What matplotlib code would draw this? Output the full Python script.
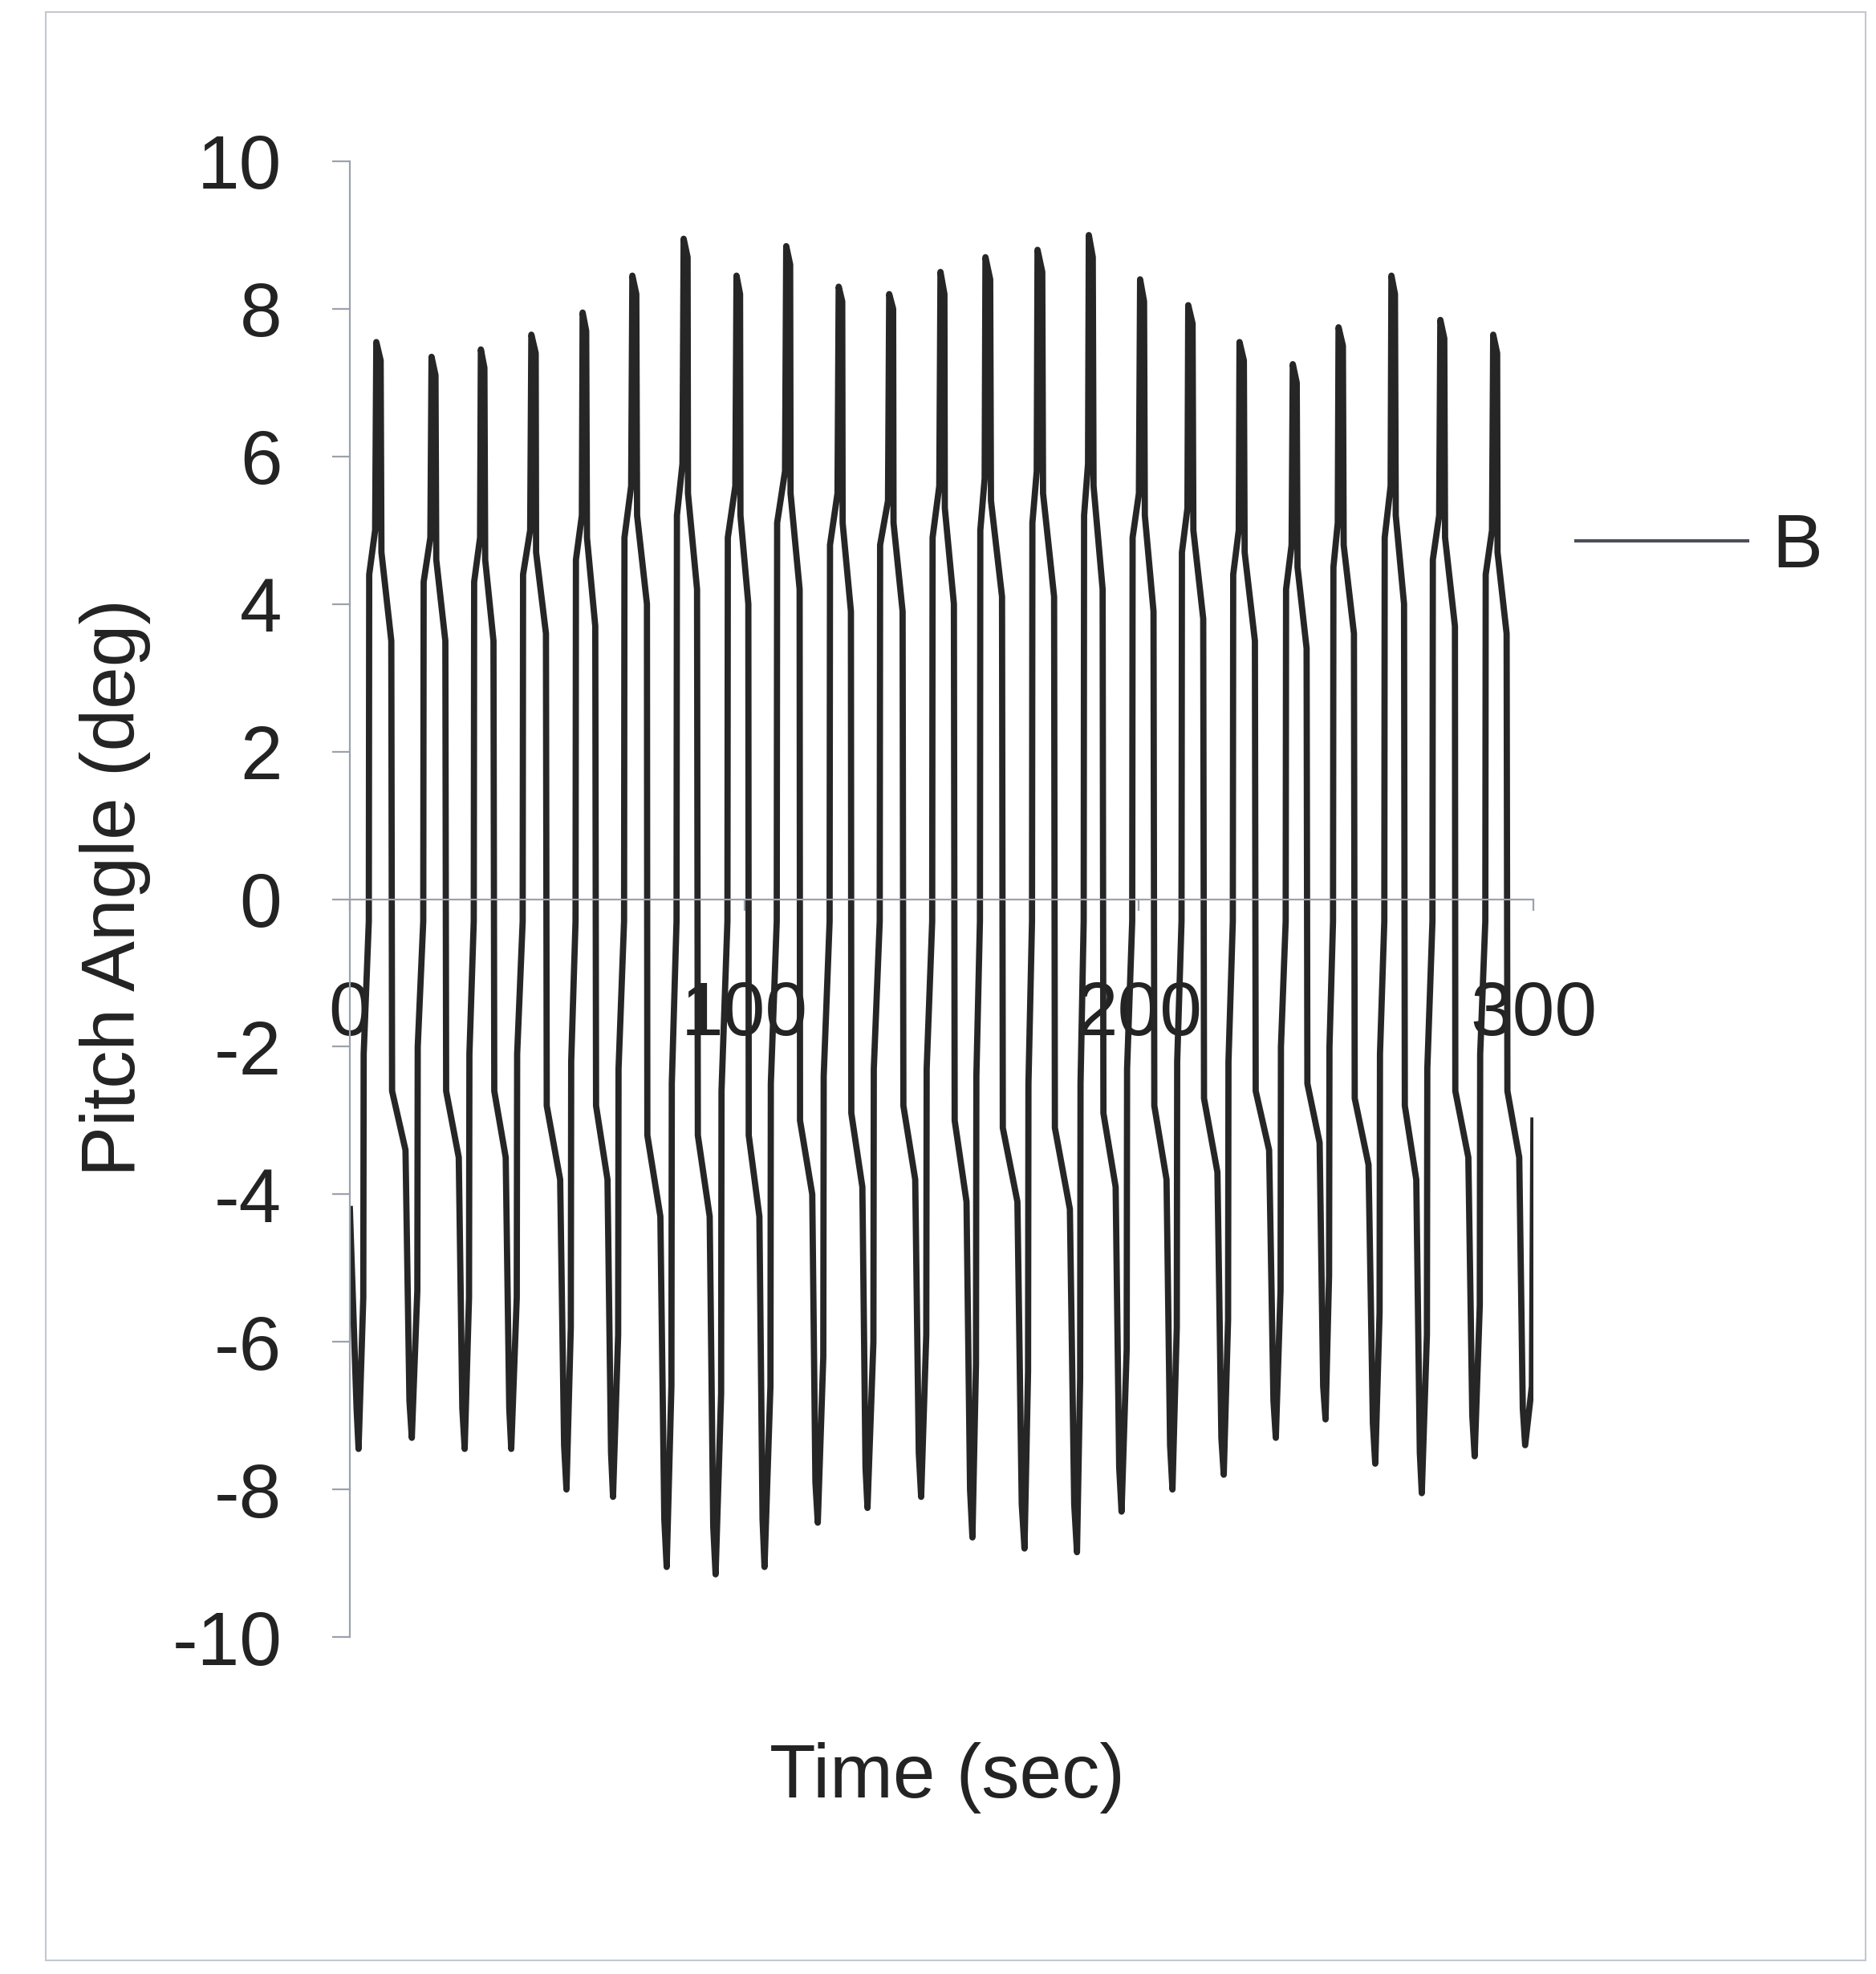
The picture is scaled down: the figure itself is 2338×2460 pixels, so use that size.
import matplotlib
matplotlib.use("Agg")
import matplotlib.pyplot as plt
from matplotlib.patches import Rectangle

plt.rcParams['font.family'] = ['Liberation Sans', 'DejaVu Sans']
plt.rcParams['axes.unicode_minus'] = False

# Pitch-angle time history (seconds, degrees), one row per oscillation cycle:
# trough -> rising knees -> peak -> falling knees -> next trough
time_s = [
    0.0, 1.7, 2.2,
    3.4, 3.5, 4.8, 4.9, 6.4, 6.7, 7.8, 8.0, 10.5, 10.7, 14.1, 15.1, 15.7,
    17.1, 17.2, 18.6, 18.7, 20.4, 20.7, 21.7, 21.9, 24.2, 24.4, 27.6, 28.5, 29.1,
    30.2, 30.3, 31.4, 31.5, 33.0, 33.2, 34.1, 34.3, 36.4, 36.6, 39.5, 40.4, 40.9,
    42.3, 42.4, 43.8, 43.9, 45.7, 46.0, 47.1, 47.2, 49.7, 49.9, 53.3, 54.3, 54.9,
    56.0, 56.1, 57.2, 57.3, 58.8, 59.0, 59.9, 60.1, 62.2, 62.4, 65.3, 66.2, 66.7,
    68.0, 68.1, 69.5, 69.6, 71.3, 71.6, 72.6, 72.8, 75.3, 75.4, 78.7, 79.7, 80.3,
    81.5, 81.6, 82.8, 82.9, 84.3, 84.6, 85.6, 85.7, 88.0, 88.2, 91.2, 92.1, 92.7,
    94.1, 94.2, 95.7, 95.8, 97.7, 98.0, 98.9, 99.0, 101.0, 101.1, 103.8, 104.6, 105.1,
    106.6, 106.7, 108.2, 108.3, 110.3, 110.6, 111.6, 111.7, 114.0, 114.1, 117.2, 118.0, 118.6,
    120.0, 120.1, 121.6, 121.7, 123.6, 123.9, 124.8, 124.9, 127.0, 127.1, 129.9, 130.7, 131.2,
    132.7, 132.8, 134.3, 134.4, 136.4, 136.7, 137.7, 137.8, 140.1, 140.3, 143.3, 144.2, 144.8,
    146.1, 146.2, 147.6, 147.7, 149.4, 149.7, 150.7, 150.8, 153.1, 153.3, 156.3, 157.2, 157.8,
    158.7, 158.8, 159.7, 159.8, 160.9, 161.1, 162.3, 162.5, 165.3, 165.5, 169.2, 170.3, 171.0,
    171.9, 172.0, 172.9, 173.0, 174.1, 174.3, 175.5, 175.7, 178.5, 178.7, 182.5, 183.6, 184.3,
    185.1, 185.2, 186.0, 186.1, 187.1, 187.3, 188.3, 188.5, 190.8, 191.0, 194.1, 195.0, 195.6,
    196.9, 197.0, 198.3, 198.4, 200.0, 200.3, 201.3, 201.5, 203.7, 203.9, 207.0, 207.9, 208.5,
    209.6, 209.7, 210.8, 210.9, 212.3, 212.5, 213.6, 213.8, 216.3, 216.5, 219.9, 220.9, 221.5,
    222.6, 222.7, 223.8, 223.9, 225.3, 225.5, 226.6, 226.8, 229.4, 229.6, 233.0, 234.1, 234.7,
    235.9, 236.0, 237.2, 237.3, 238.7, 239.0, 240.0, 240.2, 242.5, 242.7, 245.8, 246.7, 247.3,
    248.2, 248.3, 249.2, 249.3, 250.4, 250.6, 251.7, 251.9, 254.5, 254.7, 258.2, 259.3, 259.9,
    261.0, 261.1, 262.2, 262.3, 263.8, 264.0, 264.9, 265.1, 267.2, 267.4, 270.3, 271.2, 271.7,
    273.0, 273.1, 274.4, 274.5, 276.1, 276.4, 277.4, 277.6, 280.1, 280.2, 283.5, 284.5, 285.1,
    286.4, 286.5, 287.8, 287.9, 289.5, 289.8, 290.8, 290.9, 293.2, 293.4, 296.4, 297.3, 297.9,
    299.6, 300.0,
]

pitch_deg = [
    -4.2, -6.9, -7.45,
    -5.4, -2.1, -0.3, 4.4, 5.0, 7.55, 7.3, 4.7, 3.5, -2.6, -3.4, -6.8, -7.3,
    -5.3, -2.0, -0.3, 4.3, 4.9, 7.35, 7.1, 4.6, 3.5, -2.6, -3.5, -6.9, -7.45,
    -5.4, -2.1, -0.3, 4.3, 4.9, 7.45, 7.2, 4.6, 3.5, -2.6, -3.5, -6.9, -7.45,
    -5.4, -2.1, -0.3, 4.4, 5.0, 7.65, 7.4, 4.7, 3.6, -2.8, -3.8, -7.4, -8.0,
    -5.8, -2.2, -0.3, 4.6, 5.2, 7.95, 7.7, 4.9, 3.7, -2.8, -3.8, -7.5, -8.1,
    -5.9, -2.3, -0.3, 4.9, 5.6, 8.45, 8.2, 5.2, 4.0, -3.2, -4.3, -8.4, -9.05,
    -6.6, -2.5, -0.3, 5.2, 5.9, 8.95, 8.7, 5.5, 4.2, -3.2, -4.3, -8.5, -9.15,
    -6.7, -2.6, -0.3, 4.9, 5.6, 8.45, 8.2, 5.2, 4.0, -3.2, -4.3, -8.4, -9.05,
    -6.6, -2.5, -0.3, 5.1, 5.8, 8.85, 8.6, 5.5, 4.2, -3.0, -4.0, -7.9, -8.45,
    -6.2, -2.4, -0.3, 4.8, 5.5, 8.3, 8.1, 5.1, 3.9, -2.9, -3.9, -7.7, -8.25,
    -6.0, -2.3, -0.3, 4.8, 5.4, 8.2, 8.0, 5.1, 3.9, -2.8, -3.8, -7.5, -8.1,
    -5.9, -2.3, -0.3, 4.9, 5.6, 8.5, 8.2, 5.3, 4.0, -3.0, -4.1, -8.0, -8.65,
    -6.3, -2.4, -0.3, 5.0, 5.7, 8.7, 8.4, 5.4, 4.1, -3.1, -4.1, -8.2, -8.8,
    -6.4, -2.5, -0.3, 5.1, 5.8, 8.8, 8.5, 5.5, 4.1, -3.1, -4.2, -8.2, -8.85,
    -6.5, -2.5, -0.3, 5.2, 5.9, 9.0, 8.7, 5.6, 4.2, -2.9, -3.9, -7.7, -8.3,
    -6.1, -2.3, -0.3, 4.9, 5.5, 8.4, 8.1, 5.2, 3.9, -2.8, -3.8, -7.4, -8.0,
    -5.8, -2.2, -0.3, 4.7, 5.3, 8.05, 7.8, 5.0, 3.8, -2.7, -3.7, -7.3, -7.8,
    -5.7, -2.2, -0.3, 4.4, 5.0, 7.55, 7.3, 4.7, 3.5, -2.6, -3.4, -6.8, -7.3,
    -5.3, -2.0, -0.3, 4.2, 4.8, 7.25, 7.0, 4.5, 3.4, -2.5, -3.3, -6.6, -7.05,
    -5.1, -2.0, -0.3, 4.5, 5.1, 7.75, 7.5, 4.8, 3.6, -2.7, -3.6, -7.1, -7.65,
    -5.6, -2.1, -0.3, 4.9, 5.6, 8.45, 8.2, 5.2, 4.0, -2.8, -3.8, -7.5, -8.05,
    -5.9, -2.3, -0.3, 4.6, 5.2, 7.85, 7.6, 4.9, 3.7, -2.6, -3.5, -7.0, -7.55,
    -5.5, -2.1, -0.3, 4.4, 5.0, 7.65, 7.4, 4.7, 3.6, -2.6, -3.5, -6.9, -7.4,
    -6.6, -3.0,
]

series_name = 'B'
x_ticks = [0, 100, 200, 300]
y_ticks = [-10, -8, -6, -4, -2, 0, 2, 4, 6, 8, 10]
x_label = 'Time (sec)'
y_label = 'Pitch Angle (deg)'

axis_color = '#9ca1ad'
text_color = '#232323'
line_color = '#262626'
font_size = 68

fig = plt.figure(figsize=(23.38, 24.6), dpi=100)
fig.patch.set_facecolor('white')

# outer chart-area frame
fig.add_artist(Rectangle((0.0244, 0.0069), 0.970, 0.987, transform=fig.transFigure,
                         fill=False, edgecolor='#c3c7d0', linewidth=1.5))

ax = fig.add_axes([0.1865, 0.1707, 0.6309, 0.7476])
ax.plot(time_s, pitch_deg, color=line_color, linewidth=5.6, label=series_name)

ax.set_xlim(0, 300)
ax.set_ylim(-10, 10)
ax.set_xticks(x_ticks)
ax.set_yticks(y_ticks)

for side in ('top', 'right'):
    ax.spines[side].set_visible(False)
ax.spines['bottom'].set_position(('data', 0))
for side in ('left', 'bottom'):
    ax.spines[side].set_color(axis_color)
    ax.spines[side].set_linewidth(1.6)

ax.tick_params(axis='y', direction='out', length=16, width=1.6, color=axis_color,
               pad=45, labelsize=font_size, labelcolor=text_color)
ax.tick_params(axis='x', direction='out', length=10, width=1.6, color=axis_color,
               pad=62, labelsize=font_size, labelcolor=text_color)

fig.text(144 / 2338, 1 - 1106 / 2460, y_label, rotation=90, ha='center', va='center',
         fontsize=font_size, color=text_color)
fig.text(1180 / 2338, 1 - 2215 / 2460, x_label, ha='center', va='center',
         fontsize=font_size, color=text_color)

leg = ax.legend(loc='center left', bbox_to_anchor=(1964 / 2338, 1 - 683 / 2460),
                bbox_transform=fig.transFigure, frameon=False, fontsize=font_size,
                handlelength=2.27, handletextpad=0.32, borderpad=0, borderaxespad=0)
for t in leg.get_texts():
    t.set_color(text_color)
for ln in leg.get_lines():
    ln.set_linewidth(3.0)
    ln.set_color('#4a4f58')

fig.savefig('out.png', dpi=100, facecolor='white')
